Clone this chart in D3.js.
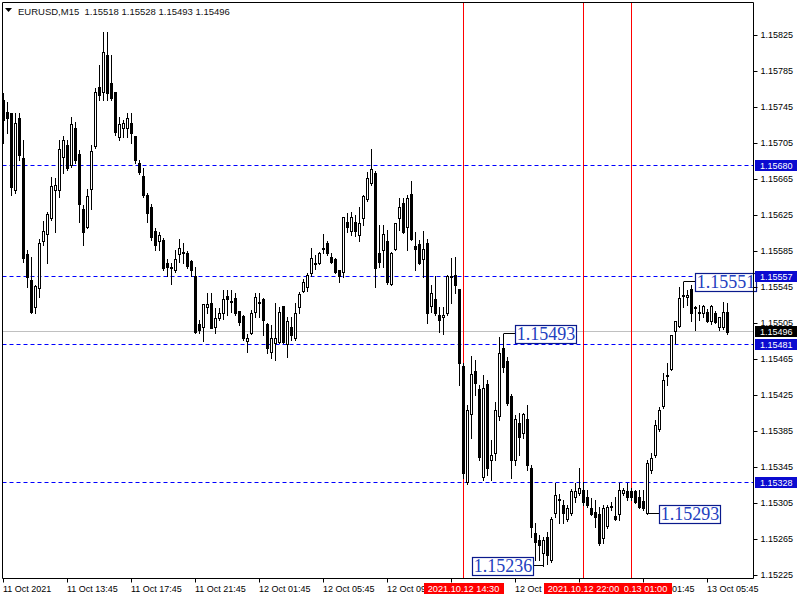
<!DOCTYPE html>
<html><head><meta charset="utf-8">
<script src="https://cdn.jsdelivr.net/npm/d3@7"></script>
<style>
body{margin:0;background:#fff}
svg{display:block}
text{font-family:"Liberation Sans",Arial,sans-serif}
</style>
</head><body>
<svg id="chart" width="800" height="600"></svg>
<script>
// ---- data (EURUSD, M15, first bar = 11 Oct 2021 09:45) ----
const opens=[1.15753,1.15740,1.15739,1.15653,1.15733,1.15689,1.15582,1.15553,1.15523,1.15544,1.15597,1.15604,1.15622,1.15653,1.15653,1.15690,1.15703,1.15681,1.15722,1.15693,1.15632,1.15612,1.15654,1.15702,1.15768,1.15762,1.15803,1.15772,1.15762,1.15712,1.15722,1.15722,1.15728,1.15713,1.15683,1.15669,1.15648,1.15634,1.15608,1.15597,1.15598,1.15572,1.15568,1.15564,1.15582,1.15584,1.15583,1.15574,1.15558,1.15504,1.15501,1.15523,1.15528,1.15501,1.15511,1.15517,1.15536,1.15530,1.15533,1.15519,1.15513,1.15486,1.15494,1.15518,1.15528,1.15532,1.15504,1.15473,1.15483,1.15484,1.15524,1.15482,1.15501,1.15489,1.15523,1.15541,1.15546,1.15561,1.15572,1.15572,1.15589,1.15594,1.15579,1.15577,1.15564,1.15562,1.15618,1.15608,1.15618,1.15603,1.15622,1.15643,1.15661,1.15672,1.15583,1.15587,1.15597,1.15549,1.15588,1.15622,1.15639,1.15612,1.15649,1.15591,1.15593,1.15577,1.15594,1.15524,1.15532,1.15514,1.15512,1.15517,1.15557,1.15559,1.15543,1.15458,1.15329,1.15404,1.15452,1.15432,1.15334,1.15438,1.15353,1.15361,1.15402,1.15478,1.15463,1.15424,1.15353,1.15394,1.15383,1.15399,1.15344,1.15272,1.15264,1.15250,1.15268,1.15242,1.15294,1.15310,1.15303,1.15288,1.15294,1.15312,1.15317,1.15320,1.15312,1.15300,1.15296,1.15293,1.15267,1.15280,1.15301,1.15291,1.15293,1.15317,1.15319,1.15319,1.15319,1.15312,1.15308,1.15294,1.15342,1.15359,1.15388,1.15413,1.15448,1.15454,1.15497,1.15502,1.15537,1.15534,1.15543,1.15523,1.15518,1.15517,1.15518,1.15508,1.15517,1.15501,1.15501,1.15518];
const highs=[1.15761,1.15751,1.15739,1.15739,1.15739,1.15709,1.15587,1.15579,1.15548,1.15599,1.15619,1.15629,1.15668,1.15667,1.15709,1.15713,1.15709,1.15734,1.15729,1.15698,1.15637,1.15654,1.15703,1.15767,1.15792,1.15829,1.15829,1.15803,1.15762,1.15734,1.15731,1.15739,1.15739,1.15713,1.15687,1.15678,1.15650,1.15638,1.15611,1.15607,1.15600,1.15577,1.15572,1.15587,1.15599,1.15594,1.15586,1.15576,1.15568,1.15509,1.15527,1.15539,1.15539,1.15522,1.15522,1.15542,1.15542,1.15542,1.15539,1.15519,1.15514,1.15493,1.15520,1.15539,1.15539,1.15533,1.15506,1.15503,1.15528,1.15523,1.15524,1.15512,1.15512,1.15528,1.15540,1.15554,1.15561,1.15589,1.15581,1.15584,1.15604,1.15597,1.15583,1.15578,1.15564,1.15623,1.15628,1.15629,1.15626,1.15634,1.15648,1.15673,1.15699,1.15675,1.15614,1.15614,1.15609,1.15584,1.15617,1.15644,1.15644,1.15648,1.15663,1.15607,1.15598,1.15608,1.15599,1.15548,1.15558,1.15523,1.15523,1.15559,1.15578,1.15579,1.15543,1.15461,1.15414,1.15469,1.15464,1.15437,1.15448,1.15442,1.15376,1.15418,1.15490,1.15493,1.15468,1.15427,1.15403,1.15406,1.15406,1.15414,1.15348,1.15283,1.15270,1.15268,1.15273,1.15290,1.15328,1.15316,1.15309,1.15303,1.15321,1.15328,1.15344,1.15329,1.15320,1.15311,1.15309,1.15301,1.15303,1.15303,1.15307,1.15312,1.15328,1.15322,1.15328,1.15322,1.15320,1.15320,1.15320,1.15353,1.15361,1.15398,1.15412,1.15450,1.15461,1.15492,1.15508,1.15546,1.15551,1.15542,1.15548,1.15524,1.15526,1.15526,1.15521,1.15526,1.15519,1.15512,1.15529,1.15528];
const lows=[1.15706,1.15717,1.15648,1.15650,1.15687,1.15573,1.15546,1.15517,1.15517,1.15534,1.15592,1.15572,1.15620,1.15607,1.15646,1.15672,1.15676,1.15679,1.15683,1.15618,1.15592,1.15611,1.15632,1.15700,1.15753,1.15753,1.15753,1.15753,1.15714,1.15709,1.15712,1.15712,1.15706,1.15683,1.15671,1.15646,1.15618,1.15598,1.15587,1.15587,1.15564,1.15558,1.15549,1.15562,1.15573,1.15572,1.15567,1.15558,1.15494,1.15494,1.15486,1.15517,1.15500,1.15494,1.15509,1.15510,1.15514,1.15518,1.15515,1.15503,1.15487,1.15473,1.15493,1.15512,1.15512,1.15492,1.15472,1.15467,1.15464,1.15483,1.15483,1.15468,1.15487,1.15487,1.15517,1.15540,1.15541,1.15558,1.15566,1.15571,1.15583,1.15581,1.15572,1.15561,1.15551,1.15557,1.15607,1.15603,1.15602,1.15597,1.15614,1.15641,1.15659,1.15546,1.15568,1.15568,1.15549,1.15548,1.15587,1.15609,1.15606,1.15587,1.15598,1.15564,1.15571,1.15557,1.15506,1.15518,1.15514,1.15496,1.15493,1.15514,1.15528,1.15539,1.15437,1.15333,1.15327,1.15378,1.15426,1.15353,1.15331,1.15337,1.15331,1.15353,1.15398,1.15451,1.15414,1.15333,1.15348,1.15359,1.15378,1.15342,1.15268,1.15242,1.15242,1.15236,1.15238,1.15240,1.15290,1.15283,1.15283,1.15286,1.15292,1.15307,1.15314,1.15303,1.15301,1.15292,1.15279,1.15259,1.15261,1.15278,1.15298,1.15287,1.15287,1.15314,1.15309,1.15309,1.15306,1.15300,1.15298,1.15293,1.15339,1.15357,1.15386,1.15411,1.15437,1.15453,1.15483,1.15501,1.15523,1.15526,1.15508,1.15498,1.15509,1.15512,1.15507,1.15504,1.15506,1.15498,1.15499,1.15493];
const closes=[1.15731,1.15733,1.15657,1.15728,1.15692,1.15578,1.15557,1.15518,1.15547,1.15594,1.15608,1.15627,1.15658,1.15659,1.15699,1.15709,1.15678,1.15727,1.15687,1.15638,1.15607,1.15647,1.15697,1.15762,1.15759,1.15807,1.15761,1.15756,1.15718,1.15727,1.15728,1.15733,1.15717,1.15687,1.15673,1.15648,1.15628,1.15601,1.15592,1.15603,1.15567,1.15568,1.15567,1.15577,1.15589,1.15583,1.15569,1.15564,1.15496,1.15498,1.15527,1.15527,1.15500,1.15511,1.15517,1.15532,1.15532,1.15529,1.15517,1.15507,1.15489,1.15489,1.15517,1.15534,1.15529,1.15509,1.15478,1.15489,1.15489,1.15518,1.15484,1.15508,1.15492,1.15517,1.15538,1.15551,1.15559,1.15578,1.15571,1.15583,1.15588,1.15583,1.15573,1.15562,1.15558,1.15623,1.15612,1.15623,1.15608,1.15617,1.15647,1.15667,1.15677,1.15567,1.15573,1.15604,1.15551,1.15583,1.15617,1.15634,1.15607,1.15644,1.15599,1.15588,1.15572,1.15588,1.15517,1.15539,1.15517,1.15509,1.15514,1.15558,1.15558,1.15548,1.15461,1.15339,1.15409,1.15449,1.15439,1.15357,1.15433,1.15344,1.15359,1.15409,1.15472,1.15457,1.15417,1.15353,1.15399,1.15379,1.15404,1.15348,1.15279,1.15262,1.15259,1.15264,1.15248,1.15288,1.15314,1.15309,1.15294,1.15300,1.15319,1.15319,1.15322,1.15307,1.15303,1.15293,1.15290,1.15261,1.15300,1.15301,1.15302,1.15288,1.15320,1.15320,1.15312,1.15312,1.15307,1.15301,1.15300,1.15350,1.15356,1.15392,1.15409,1.15442,1.15447,1.15492,1.15508,1.15533,1.15536,1.15537,1.15517,1.15522,1.15517,1.15524,1.15508,1.15524,1.15507,1.15512,1.15518,1.15496];

const titleText="EURUSD,M15  1.15518 1.15528 1.15493 1.15496";
const yTickValues=[1.15825,1.15785,1.15745,1.15705,1.15665,1.15625,1.15585,1.15545,1.15505,1.15465,1.15425,1.15385,1.15345,1.15305,1.15265,1.15225];
const xTickIndex=[0,16,32,48,64,80,96,112,128,144,160,176];
const xTickLabels=["11 Oct 2021","11 Oct 13:45","11 Oct 17:45","11 Oct 21:45","12 Oct 01:45","12 Oct 05:45","12 Oct 09:45","12 Oct 13:45","12 Oct 17:45","12 Oct 21:45","13 Oct 01:45","13 Oct 05:45"];
const levelPrices=[1.15680,1.15557,1.15481,1.15328];
const bidPrice=1.15496;
const vlineIndex=[115,145,157];
const vlineLabels=["2021.10.12 14:30","2021.10.12 22:00","2021.10.13 01:00"];
const annotIndex=[125,170,135,161];
const annotPrice=[1.15493,1.15551,1.15236,1.15293];
const annotSide=["right","right","left","right"];

// ---- drawing ----
const svg=d3.select("#chart");
const L=2.5,T=2.5,R=753.5,B=578.5;
const N=opens.length;
const x=d3.scaleLinear().domain([0,N-1]).range([3.5,3.5+4*(N-1)]);
const y=d3.scaleLinear().domain([1.15225,1.15825]).range([575.5,35.5]);
const yl=v=>Math.floor(y(v)-0.5)+0.5;   // crisp row for horizontal lines
const fmt=d3.format(".5f");

svg.append("rect").attr("width",800).attr("height",600).attr("fill","#fff");

// bid line
svg.append("line").attr("x1",L).attr("x2",R).attr("y1",yl(bidPrice)).attr("y2",yl(bidPrice))
  .attr("stroke","#c0c0c0").attr("stroke-width",1);

// level lines (blue dashed)
svg.selectAll("line.level").data(levelPrices).join("line").attr("class","level")
  .attr("x1",L).attr("x2",R).attr("y1",d=>yl(d)).attr("y2",d=>yl(d))
  .attr("stroke","#0000ff").attr("stroke-width",1).attr("stroke-dasharray","4,3");

// vertical lines
svg.selectAll("line.vl").data(vlineIndex).join("line").attr("class","vl")
  .attr("x1",d=>x(d)).attr("x2",d=>x(d)).attr("y1",T).attr("y2",B)
  .attr("stroke","#ff0000").attr("stroke-width",1);

// candles
const idx=d3.range(N);
const g=svg.append("g");
g.selectAll("line.wick").data(idx).join("line").attr("class","wick")
  .attr("x1",i=>x(i)).attr("x2",i=>x(i))
  .attr("y1",i=>Math.round(y(highs[i]))).attr("y2",i=>Math.round(y(lows[i]))+1)
  .attr("stroke","#000").attr("stroke-width",1);
idx.forEach(i=>{
  const o=opens[i],c=closes[i];
  const top=Math.round(y(Math.max(o,c))),bot=Math.round(y(Math.min(o,c)));
  if(c>o){
    g.append("rect").attr("x",x(i)-1).attr("y",top+0.5).attr("width",2).attr("height",Math.max(1,bot-top))
      .attr("fill","#fff").attr("stroke","#000").attr("stroke-width",1);
  } else {
    g.append("rect").attr("x",x(i)-1.5).attr("y",top).attr("width",3).attr("height",Math.max(1,bot-top+1))
      .attr("fill","#000");
  }
});

// annotations (price labels with connector)
const annG=svg.append("g");
annotIndex.forEach((bi,k)=>{
  const px=x(bi), py=yl(annotPrice[k]);
  const w=61,h=18;
  const bx=annotSide[k]==="right"? Math.round(px+11)+0.5 : Math.round(px-10-w)-0.5;
  const lx=annotSide[k]==="right"? bx : bx+w;
  annG.append("line").attr("x1",px).attr("x2",lx).attr("y1",py).attr("y2",py).attr("stroke","#000").attr("stroke-width",1);
  annG.append("rect").attr("x",bx).attr("y",Math.round(py-h/2)+0.5).attr("width",w).attr("height",h)
    .attr("fill","#fff").attr("stroke","#0a1a8c").attr("stroke-width",1.2);
  annG.append("text").attr("x",bx+w/2).attr("y",py+6.5).attr("text-anchor","middle")
    .style("font-family","'Liberation Serif','Times New Roman',serif").style("font-size","18px")
    .attr("fill","#2240c0").text(fmt(annotPrice[k]));
});

// frame
svg.append("path").attr("d",`M${L},${T}H${R}V${B}H${L}Z`).attr("fill","none").attr("stroke","#000").attr("stroke-width",1);

// y axis
const yAxis=d3.axisRight(y).tickValues(yTickValues).tickSize(4).tickPadding(3).tickFormat(fmt).offset(0);
const ya=svg.append("g").attr("transform",`translate(${R},0)`).call(yAxis);
ya.select(".domain").remove();
ya.selectAll("text").style("font-size","9px").style("font-family","'Liberation Sans',Arial,sans-serif").attr("fill","#000");
ya.selectAll("line").attr("stroke","#000");

// x axis
const xAxis=d3.axisBottom(x).tickValues(xTickIndex).tickSize(4).tickPadding(3).tickFormat((d,i)=>xTickLabels[i]).offset(0);
const xa=svg.append("g").attr("transform",`translate(0,${B})`).call(xAxis);
xa.select(".domain").remove();
xa.selectAll("text").attr("text-anchor","start").attr("x",-0.5).style("font-size","9px")
  .style("font-family","'Liberation Sans',Arial,sans-serif").attr("fill","#000");
xa.selectAll("line").attr("stroke","#000");

// right price tags
function priceTag(v,bg){
  const yy=Math.floor(y(v)-0.5);
  svg.append("rect").attr("x",755).attr("y",yy-5).attr("width",42).attr("height",11).attr("fill",bg);
  svg.append("text").attr("x",760).attr("y",yy+4).attr("fill","#fff").style("font-size","9px").text(fmt(v));
}
levelPrices.forEach(v=>priceTag(v,"#0b0bd0"));
priceTag(bidPrice,"#000");

// vertical line time tags (drawn last-first so 22:00 sits above 01:00, as in the reference)
vlineIndex.map((d,i)=>i).reverse().forEach(i=>{
  const cx=x(vlineIndex[i]);
  svg.append("rect").attr("x",Math.round(cx-40)).attr("y",583).attr("width",80).attr("height",11).attr("fill","#ff0000");
  svg.append("text").attr("x",cx).attr("y",592).attr("text-anchor","middle").attr("fill","#fff")
    .style("font-size","9.2px").text(vlineLabels[i]);
});

// title
svg.append("path").attr("d","M5,8H12L8.5,12Z").attr("fill","#000");
svg.append("text").attr("x",18).attr("y",15).attr("fill","#111").style("font-size","9.5px").style("white-space","pre").text(titleText);
</script>
</body></html>
